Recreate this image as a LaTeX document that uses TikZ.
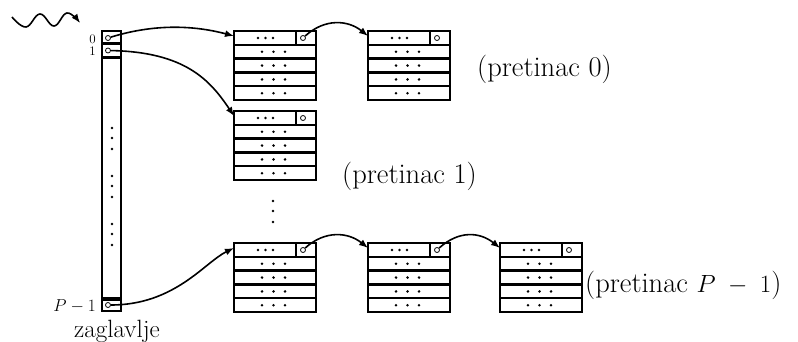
\documentclass[tikz,border=0pt]{standalone}
\usepackage{fontspec}
\usetikzlibrary{arrows.meta}
\begin{document}
\begin{tikzpicture}[x=1pt,y=-1pt,
  box/.style={line width=2.4pt},
  arr/.style={line width=1.6pt,-{Latex[length=9pt,width=7pt]}},
  ptr/.style={circle,draw,line width=0.8pt,minimum size=5pt,inner sep=0pt},
  dotm/.style={circle,fill,minimum size=2.8pt,inner sep=0pt},
  big/.style={font=\fontsize{25}{30}\selectfont,inner sep=0pt},
  lab/.style={font=\fontsize{28.5}{34}\selectfont,inner sep=0pt},
  small/.style={font=\fontsize{13}{15}\selectfont,inner sep=0pt},
  smallp/.style={font=\fontsize{17}{20}\selectfont,inner sep=0pt},
  bucket/.pic={
    \draw[box] (0,0) rectangle (82,69);
    \foreach \k in {1,...,4} \draw[box] (0,13.8*\k) -- (82,13.8*\k);
    \draw[box] (62,0) -- (62,13.8);
    \node[ptr] (-ptr) at (69,7) {};
    \coordinate (-in) at (0,5);
    \foreach \xx in {24,31.5,39} \node[dotm] at (\xx,7) {};
    \foreach \k in {1,...,4}
      \foreach \xx in {28,39.5,51} \node[dotm] at (\xx,13.8*\k+7) {};
  }]
\useasboundingbox (0,0) rectangle (798,342);
% wavy arrow
\draw[arr] plot[smooth,tension=0.7] coordinates {(12,17) (26,27) (40,14) (54,26) (67,13) (80,23)};
% header column
\draw[box] (102,31) rectangle (121,311);
\draw[box] (102,43.5) -- (121,43.5);
\draw[line width=3.5pt] (102,57.5) -- (121,57.5);
\draw[line width=3.5pt] (102,299) -- (121,299);
\node[ptr] (h0) at (108,38) {};
\node[ptr] (h1) at (108,50.5) {};
\node[ptr] (hP) at (108,305) {};
\node[small,anchor=base east] (l0) at (96,43.5) {0};
\node[small,anchor=base east] (l1) at (96,56) {1};
\node[smallp,anchor=base east] (lP) at (96,311) {$P-1$};
\foreach \yy in {128,138,149,176,186,197,224,234,245} \node[dotm] at (112,\yy) {};
\node[big,anchor=base] (zag) at (117,337) {zaglavlje};
% buckets
\pic (b0) at (234,31) {bucket};
\pic (b0b) at (368,31) {bucket};
\pic (b1) at (234,111) {bucket};
\pic (bP) at (234,243) {bucket};
\pic (bPb) at (368,243) {bucket};
\pic (bPc) at (500,243) {bucket};
\foreach \yy in {201,211,222} \node[dotm] at (273,\yy) {};
% labels
\node[lab,anchor=base west] (t0) at (477,77) {(pretinac 0)};
\node[lab,anchor=base west] (t1) at (342,183) {(pretinac 1)};
\node[lab,anchor=base west] (tP) at (585,292) {(pretinac $P\mskip5mu-\mskip5mu1$)};
% arrows
\draw[arr] (h0) .. controls (160,22) and (200,27) .. (b0-in);
\draw[arr] (h1) .. controls (185,52) and (210,80) .. (b1-in);
\draw[arr] (hP) .. controls (175,305) and (205,262) .. (bP-in);
\draw[arr] (b0-ptr) .. controls (325,18) and (348,20) .. (b0b-in);
\draw[arr] (bP-ptr) .. controls (325,230) and (348,232) .. (bPb-in);
\draw[arr] (bPb-ptr) .. controls (459,230) and (480,232) .. (bPc-in);
\end{tikzpicture}
\end{document}
